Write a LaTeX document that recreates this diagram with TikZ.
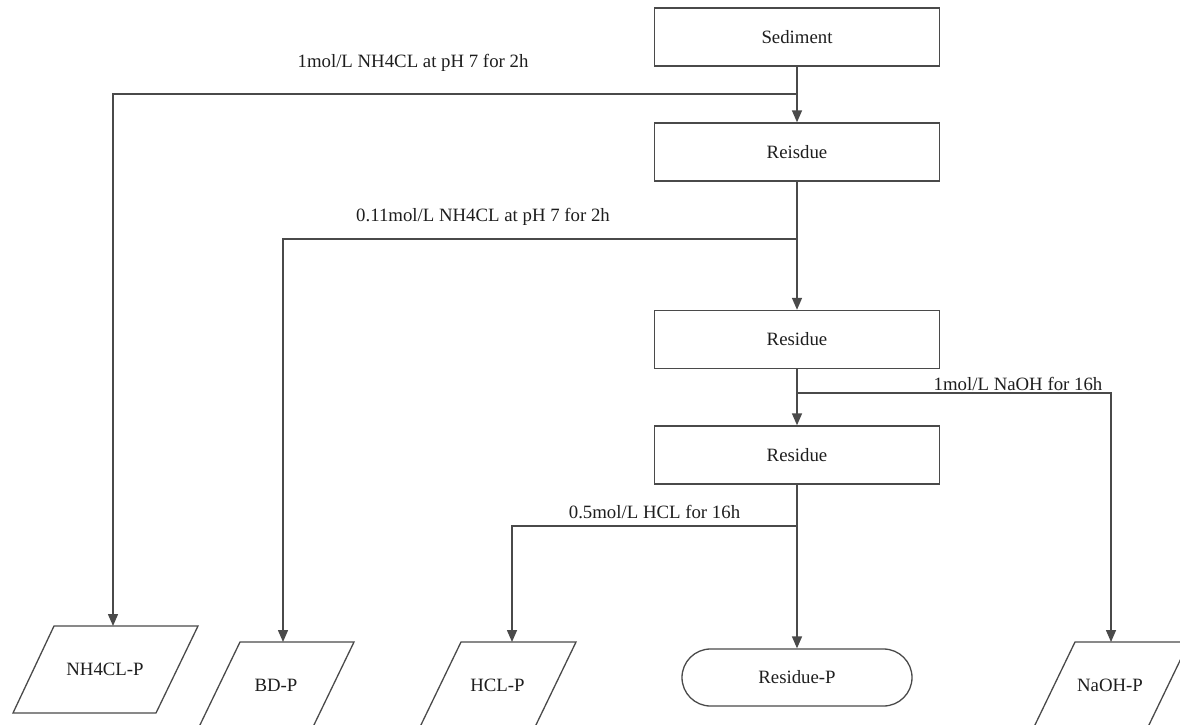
\documentclass[tikz,border=0pt]{standalone}
\usepackage{fontspec}
\setmainfont{Liberation Serif}
\usetikzlibrary{arrows.meta,shapes.misc}
\definecolor{lc}{HTML}{4A4A4A}
\definecolor{tc}{HTML}{1E1E1E}
\tikzset{
  procbox/.style={draw=lc,line width=1.4pt,minimum width=285pt,minimum height=58pt,inner sep=0pt,text=tc,font=\fontsize{18.8}{22}\selectfont},
  termbox/.style={draw=lc,line width=1.3pt,rounded rectangle,minimum width=230pt,minimum height=57pt,inner sep=0pt,text=tc,font=\fontsize{18.8}{22}\selectfont},
  datatext/.style={inner sep=0pt,text=tc,font=\fontsize{18.8}{22}\selectfont},
  para/.style={draw=lc,line width=1.3pt,line join=miter},
  lbl/.style={inner sep=0pt,text=tc,font=\fontsize{18.8}{22}\selectfont},
  conn/.style={draw=lc,line width=1.5pt},
  arr/.style={conn,-{Triangle[length=12pt,width=10pt]}}
}
\begin{document}
\begin{tikzpicture}[x=1pt,y=-1pt]
\useasboundingbox (0,0) rectangle (1180,725);
\clip (0,0) rectangle (1180,725);
% process boxes
\node[procbox] (sed) at (797,37) {Sediment};
\node[procbox] (r1) at (797,152) {Reisdue};
\node[procbox] (r2) at (797,339.5) {Residue};
\node[procbox] (r3) at (797,455) {Residue};
\node[termbox] (rp) at (797,677.5) {Residue-P};
% parallelograms
\draw[para] (54,626) -- (198,626) -- (156,713) -- (13,713) -- cycle;
\node[datatext] (nh) at (105,669.5) {NH4CL-P};
\draw[para] (240,642) -- (354,642) -- (312,729) -- (198,729) -- cycle;
\node[datatext] (bd) at (276,685.5) {BD-P};
\draw[para] (461,642) -- (576,642) -- (534,729) -- (419,729) -- cycle;
\node[datatext] (hc) at (497.5,685.5) {HCL-P};
\draw[para] (1075,642) -- (1189,642) -- (1147,729) -- (1033,729) -- cycle;
\node[datatext] (na) at (1110,685.5) {NaOH-P};
% connector coordinates
\coordinate (j1) at (797,94);
\coordinate (j2) at (797,239);
\coordinate (j3) at (797,393);
\coordinate (j4) at (797,526);
\coordinate (nhtop) at (113,626);
\coordinate (bdtop) at (283,642);
\coordinate (hctop) at (512,642);
\coordinate (natop) at (1111,642);
% main flow
\draw[arr] (sed.south) -- (r1.north);
\draw[arr] (r1.south) -- (r2.north);
\draw[arr] (r2.south) -- (r3.north);
\draw[arr] (r3.south) -- (rp.north);
% branches
\draw[arr] (j1) -| (nhtop);
\draw[arr] (j2) -| (bdtop);
\draw[arr] (j3) -| (natop);
\draw[arr] (j4) -| (hctop);
% labels
\node[lbl] (l1) at (413,63) {1mol/L NH4CL at pH 7 for 2h};
\node[lbl] (l2) at (483,217) {0.11mol/L NH4CL at pH 7 for 2h};
\node[lbl] (l3) at (1018,384) {1mol/L NaOH for 16h};
\node[lbl] (l4) at (654.5,512) {0.5mol/L HCL for 16h};
\end{tikzpicture}
\end{document}
